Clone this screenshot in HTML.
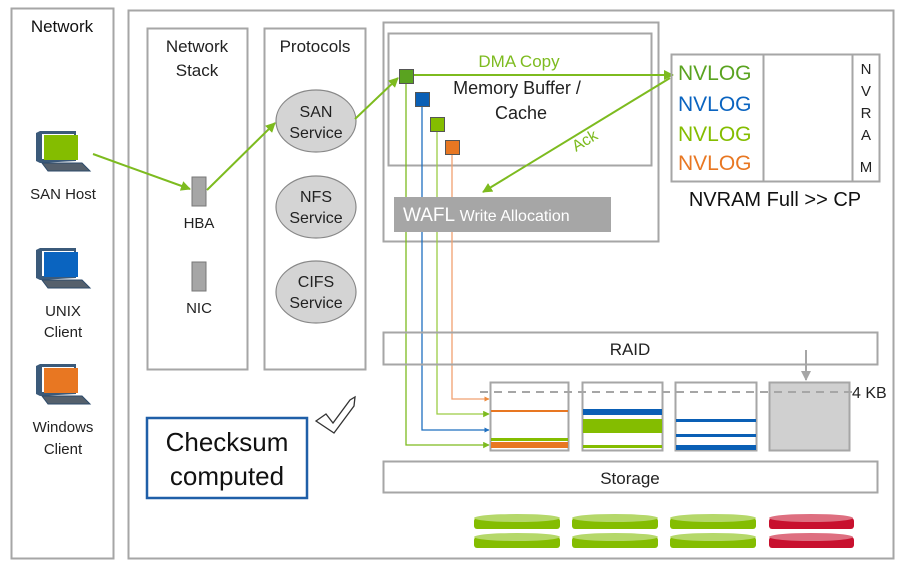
<!DOCTYPE html>
<html><head><meta charset="utf-8"><style>
html,body{margin:0;padding:0;background:#fff;}
svg{display:block;font-family:"Liberation Sans",sans-serif;}
</style></head><body>
<svg width="900" height="565" viewBox="0 0 900 565" xmlns="http://www.w3.org/2000/svg">
<defs>
<marker id="ag" viewBox="0 0 10 10" refX="9" refY="5" markerWidth="5" markerHeight="5" orient="auto"><path d="M0,0L10,5L0,10z" fill="#7dbb1f"/></marker>
<marker id="ab" viewBox="0 0 10 10" refX="9" refY="5" markerWidth="4" markerHeight="4" orient="auto"><path d="M0,0L10,5L0,10z" fill="#1f6fbf"/></marker>
<marker id="ao" viewBox="0 0 10 10" refX="9" refY="5" markerWidth="4" markerHeight="4" orient="auto"><path d="M0,0L10,5L0,10z" fill="#ee8a3c"/></marker>
<marker id="agr" viewBox="0 0 10 10" refX="9" refY="5" markerWidth="5" markerHeight="5" orient="auto"><path d="M0,0L10,5L0,10z" fill="#a6a6a6"/></marker>
<g id="pc">
<path d="M0,2 L4,0 L40,0 L40,30 L4,32 L0,30Z" fill="#3b5a7a"/>
<rect x="6" y="3" width="32" height="25" fill="#fff"/>
<path d="M6,32 L46,32 L54,40 L12,40Z" fill="#55606c" stroke="#2c4a6a" stroke-width="1"/>
</g>
</defs>
<rect x="11.5" y="8.5" width="102" height="550" fill="none" stroke="#a6a6a6" stroke-width="2"/>
<rect x="128.5" y="10.5" width="765" height="548" fill="none" stroke="#a6a6a6" stroke-width="2"/>
<text x="62" y="32" font-size="17" text-anchor="middle" fill="#111">Network</text>
<g transform="translate(36,131)"><use href="#pc"/></g>
<rect x="44" y="135" width="34" height="25" fill="#84bd00"/>
<g transform="translate(36,248)"><use href="#pc"/></g>
<rect x="44" y="252" width="34" height="25" fill="#0a64c0"/>
<g transform="translate(36,364)"><use href="#pc"/></g>
<rect x="44" y="368" width="34" height="25" fill="#e87722"/>
<g font-size="15" fill="#222" text-anchor="middle">
<text x="63" y="199">SAN Host</text>
<text x="63" y="316">UNIX</text><text x="63" y="337">Client</text>
<text x="63" y="432">Windows</text><text x="63" y="454">Client</text>
</g>
<rect x="147.5" y="28.5" width="100" height="341" fill="none" stroke="#a6a6a6" stroke-width="2"/>
<text x="197" y="52" font-size="17" text-anchor="middle" fill="#222">Network</text>
<text x="197" y="76" font-size="17" text-anchor="middle" fill="#222">Stack</text>
<rect x="192" y="177" width="14" height="29" fill="#a6a6a6" stroke="#777"/>
<rect x="192" y="262" width="14" height="29" fill="#a6a6a6" stroke="#777"/>
<text x="199" y="228" font-size="15" text-anchor="middle" fill="#222">HBA</text>
<text x="199" y="313" font-size="15" text-anchor="middle" fill="#222">NIC</text>
<rect x="264.5" y="28.5" width="101" height="341" fill="none" stroke="#a6a6a6" stroke-width="2"/>
<text x="315" y="52" font-size="17" text-anchor="middle" fill="#222">Protocols</text>
<g fill="#d4d4d4" stroke="#888" stroke-width="1.2">
<ellipse cx="316" cy="121" rx="40" ry="31"/>
<ellipse cx="316" cy="207" rx="40" ry="31"/>
<ellipse cx="316" cy="292" rx="40" ry="31"/>
</g>
<g font-size="16" text-anchor="middle" fill="#222">
<text x="316" y="117">SAN</text><text x="316" y="138">Service</text>
<text x="316" y="202">NFS</text><text x="316" y="223">Service</text>
<text x="316" y="287">CIFS</text><text x="316" y="308">Service</text>
</g>
<rect x="383.5" y="22.5" width="275" height="219" fill="none" stroke="#a6a6a6" stroke-width="2"/>
<rect x="388.5" y="33.5" width="263" height="132" fill="none" stroke="#a6a6a6" stroke-width="2"/>
<text x="519" y="67" font-size="17" text-anchor="middle" fill="#7dbb1f">DMA Copy</text>
<text x="517" y="94" font-size="18" text-anchor="middle" fill="#222">Memory Buffer /</text>
<text x="521" y="119" font-size="18" text-anchor="middle" fill="#222">Cache</text>
<g stroke="#7dbb1f" stroke-width="2" fill="none">
<line x1="93" y1="154" x2="190" y2="189" marker-end="url(#ag)"/>
<line x1="207" y1="190" x2="275" y2="123" marker-end="url(#ag)"/>
<line x1="355" y1="119" x2="398" y2="78" marker-end="url(#ag)"/>
<line x1="413" y1="75" x2="673" y2="75" marker-end="url(#ag)"/>
<line x1="670" y1="78" x2="483" y2="192" marker-end="url(#ag)"/>
</g>
<text x="576" y="152" font-size="16" fill="#7dbb1f" transform="rotate(-31 576 152)">Ack</text>
<g fill="none" stroke-width="1.3">
<path d="M406,83 V445 H489" stroke="#7dbb1f" marker-end="url(#ag)"/>
<path d="M422,106 V430 H489" stroke="#1f6fbf" marker-end="url(#ab)"/>
<path d="M437,131 V414 H489" stroke="#9ccc45" marker-end="url(#ag)"/>
<path d="M452,154 V399 H489" stroke="#f0a070" marker-end="url(#ao)"/>
</g>
<rect x="394" y="197" width="217" height="35" fill="#a6a6a6"/>
<text x="403" y="221" font-size="19" fill="#fff">WAFL <tspan font-size="16">Write Allocation</tspan></text>
<rect x="399.5" y="69.5" width="14" height="14" fill="#5aa320" stroke="#555"/>
<rect x="415.5" y="92.5" width="14" height="14" fill="#0a5fb5" stroke="#555"/>
<rect x="430.5" y="117.5" width="14" height="14" fill="#84bd00" stroke="#555"/>
<rect x="445.5" y="140.5" width="14" height="14" fill="#e87722" stroke="#555"/>
<rect x="671.5" y="54.5" width="208" height="127" fill="none" stroke="#a6a6a6" stroke-width="2"/>
<line x1="763.5" y1="55" x2="763.5" y2="181" stroke="#a6a6a6" stroke-width="2"/>
<line x1="852.5" y1="55" x2="852.5" y2="181" stroke="#a6a6a6" stroke-width="2"/>
<g font-size="21">
<text x="678" y="80" fill="#5aa320">NVLOG</text>
<text x="678" y="111" fill="#0a64c0">NVLOG</text>
<text x="678" y="141" fill="#84bd00">NVLOG</text>
<text x="678" y="170" fill="#e87722">NVLOG</text>
</g>
<g font-size="15" text-anchor="middle" fill="#222">
<text x="866" y="74">N</text><text x="866" y="96">V</text><text x="866" y="118">R</text><text x="866" y="140">A</text><text x="866" y="172">M</text>
</g>
<text x="775" y="206" font-size="20" text-anchor="middle" fill="#111">NVRAM Full &gt;&gt; CP</text>
<rect x="383.5" y="332.5" width="494" height="32" fill="none" stroke="#a6a6a6" stroke-width="2"/>
<text x="630" y="355" font-size="17" text-anchor="middle" fill="#222">RAID</text>
<rect x="383.5" y="461.5" width="494" height="31" fill="none" stroke="#a6a6a6" stroke-width="2"/>
<text x="630" y="484" font-size="17" text-anchor="middle" fill="#222">Storage</text>
<g fill="#fff" stroke="#a6a6a6" stroke-width="2">
<rect x="490.5" y="382.5" width="78" height="68"/>
<rect x="582.5" y="382.5" width="80" height="68"/>
<rect x="675.5" y="382.5" width="81" height="68"/>
<rect x="769.5" y="382.5" width="80" height="68" fill="#d0d0d0"/>
</g>
<rect x="491" y="410" width="77" height="2" fill="#e87722"/>
<rect x="491" y="438" width="77" height="3" fill="#84bd00"/>
<rect x="491" y="442" width="77" height="6" fill="#e87722"/>
<rect x="583" y="409" width="79" height="6" fill="#0a5fb5"/>
<rect x="583" y="419" width="79" height="14" fill="#84bd00"/>
<rect x="583" y="445" width="79" height="3" fill="#84bd00"/>
<rect x="676" y="419" width="80" height="3" fill="#0a5fb5"/>
<rect x="676" y="434" width="80" height="3" fill="#0a5fb5"/>
<rect x="676" y="445" width="80" height="5" fill="#0a5fb5"/>
<line x1="480" y1="392" x2="852" y2="392" stroke="#a6a6a6" stroke-width="2" stroke-dasharray="8,6"/>
<line x1="806" y1="350" x2="806" y2="380" stroke="#a6a6a6" stroke-width="2" marker-end="url(#agr)"/>
<text x="852" y="398" font-size="16" fill="#222">4 KB</text>
<g fill="#84bd00">
<rect x="474" y="518" width="86" height="11" rx="3"/><ellipse cx="517" cy="518" rx="43" ry="4" fill="#b5d86a"/>
<rect x="474" y="537" width="86" height="11" rx="3"/><ellipse cx="517" cy="537" rx="43" ry="4" fill="#b5d86a"/>
<rect x="572" y="518" width="86" height="11" rx="3"/><ellipse cx="615" cy="518" rx="43" ry="4" fill="#b5d86a"/>
<rect x="572" y="537" width="86" height="11" rx="3"/><ellipse cx="615" cy="537" rx="43" ry="4" fill="#b5d86a"/>
<rect x="670" y="518" width="86" height="11" rx="3"/><ellipse cx="713" cy="518" rx="43" ry="4" fill="#b5d86a"/>
<rect x="670" y="537" width="86" height="11" rx="3"/><ellipse cx="713" cy="537" rx="43" ry="4" fill="#b5d86a"/>
</g>
<g fill="#c8102e">
<rect x="769" y="518" width="85" height="11" rx="3"/><ellipse cx="811" cy="518" rx="42" ry="4" fill="#de6f80"/>
<rect x="769" y="537" width="85" height="11" rx="3"/><ellipse cx="811" cy="537" rx="42" ry="4" fill="#de6f80"/>
</g>
<rect x="147" y="418" width="160" height="80" fill="#fff" stroke="#1f5fa8" stroke-width="2.5"/>
<text x="227" y="451" font-size="26" text-anchor="middle" fill="#111">Checksum</text>
<text x="227" y="485" font-size="26" text-anchor="middle" fill="#111">computed</text>
<path d="M316,421 L326,414 L333,423 L350,400 L355,397 L354,406 L334,433 Z" fill="#fff" stroke="#333" stroke-width="1.3"/>
</svg>
</body></html>
